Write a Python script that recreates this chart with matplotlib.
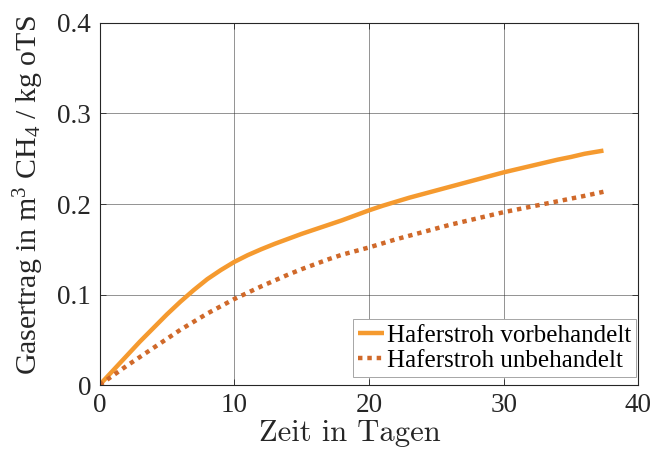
import matplotlib
matplotlib.use("Agg")
from matplotlib import pyplot as plt

# Gasertrag ueber die Zeit
tage = [0, 1, 2, 3, 4, 5, 6, 7, 8, 9, 10, 11, 12, 13, 14, 15, 16, 17, 18, 19,
        20, 21, 22, 23, 24, 25, 26, 27, 28, 29, 30, 31, 32, 33, 34, 35, 36, 37.4]
vorbehandelt = [0, 0.016, 0.032, 0.048, 0.063, 0.078, 0.092, 0.105, 0.117, 0.127,
                0.136, 0.1435, 0.150, 0.156, 0.1615, 0.167, 0.172, 0.177, 0.182, 0.1875,
                0.193, 0.198, 0.2025, 0.207, 0.211, 0.215, 0.219, 0.223, 0.227, 0.231,
                0.235, 0.2385, 0.242, 0.2455, 0.249, 0.252, 0.2555, 0.259]
unbehandelt = [0, 0.0105, 0.021, 0.031, 0.041, 0.051, 0.061, 0.070, 0.079, 0.087,
               0.095, 0.102, 0.109, 0.1155, 0.122, 0.128, 0.1335, 0.139, 0.144, 0.148,
               0.152, 0.1565, 0.161, 0.165, 0.169, 0.173, 0.177, 0.1805, 0.184, 0.1875,
               0.191, 0.194, 0.197, 0.200, 0.203, 0.206, 0.209, 0.2135]
xticks = [0, 10, 20, 30, 40]
yticks = [0, 0.1, 0.2, 0.3, 0.4]
ytick_labels = ["0", "0.1", "0.2", "0.3", "0.4"]

plt.rcParams['font.family'] = ['Liberation Serif', 'DejaVu Serif']
plt.rcParams['mathtext.fontset'] = 'custom'
plt.rcParams['mathtext.rm'] = 'Liberation Serif'
plt.rcParams['mathtext.it'] = 'Liberation Serif:italic'

fig = plt.figure(figsize=(6.56, 4.57), dpi=100)
ax = fig.add_axes([0.1517, 0.1575, 0.8216, 0.7922])

ax.plot(tage, vorbehandelt, color='#F59A2F', lw=3.2, solid_capstyle='butt',
        label='Haferstroh vorbehandelt')
ax.plot(tage, unbehandelt, color='#D0692A', lw=3.2, linestyle=(0, (1, 1.1)),
        dash_capstyle='butt', label='Haferstroh unbehandelt')

ax.set_xlim(0, 40)
ax.set_ylim(0, 0.4)
ax.set_xticks(xticks)
ax.set_yticks(yticks)
ax.set_yticklabels(ytick_labels)
ax.tick_params(direction='in', length=4, width=0.6, labelsize=19.5, pad=6,
               colors='#262626', top=True, right=True)
ax.grid(True, color='#262626', alpha=0.5, lw=0.7)
for s in ax.spines.values():
    s.set_color('#262626')
    s.set_linewidth(0.8)

ax.set_xlabel('Zeit in Tagen', fontsize=22, family='cmr10', color='#262626')
ax.xaxis.set_label_coords(0.465, -0.095)
ax.set_ylabel('Gasertrag in m$^3$ CH$_4$ / kg oTS', fontsize=21.5, color='#262626')
ax.yaxis.set_label_coords(-0.1, 0.525)

leg = ax.legend(loc='lower right', bbox_to_anchor=(0.9954, 0.022), borderaxespad=0,
                fontsize=18, frameon=True, fancybox=False, framealpha=1,
                edgecolor='#a6a6a6', handlelength=1.05, handletextpad=0.1,
                borderpad=0.2, labelspacing=0.12)
leg.get_frame().set_linewidth(0.7)

fig.savefig('out.png', dpi=100)
